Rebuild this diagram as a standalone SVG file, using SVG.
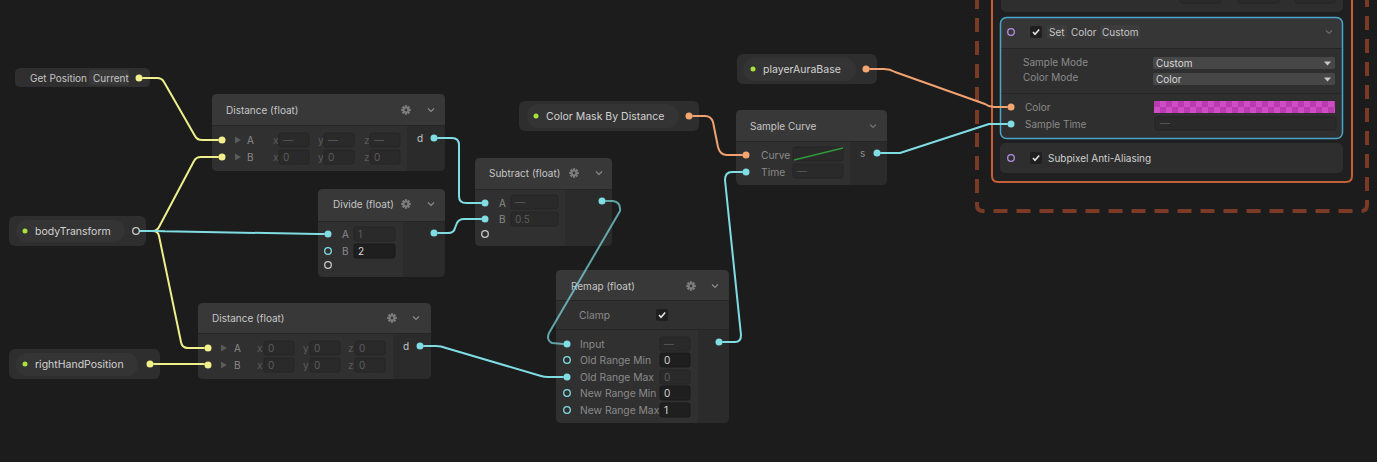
<svg xmlns="http://www.w3.org/2000/svg" width="1377" height="462" viewBox="0 0 1377 462">
<style>
text{font-family:"Inter","Liberation Sans",sans-serif;}
.hd{fill:#383838}
.bd{fill:#303030}
.oc{fill:#2b2b2b}
.sep{stroke:#262626;stroke-width:1}
.tt{fill:#c6c6c6;font-size:10px}
.lb{fill:#8a8a8a;font-size:10px}
.lb2{fill:#8a8a8a;font-size:10.3px}
.dm{fill:#5c5c5c;font-size:10px}
.vl{fill:#dadada;font-size:10px}
.fd{fill:#2a2a2a;stroke:#252525;stroke-width:1}
.fe{fill:#1f1f1f;stroke:#1a1a1a;stroke-width:1}
.py{fill:#f2f08c}
.pc{fill:#7fdde3}
.po{fill:#f3a572}
.hc{fill:none;stroke:#7fdde3;stroke-width:1.3}
.hw{fill:none;stroke:#c8c8c8;stroke-width:1.3}
.hp{fill:none;stroke:#b48ee0;stroke-width:1.3}
.gd{fill:#a9e23a}
.tri{fill:#5a5a5a}
.bbo{fill:#2e2e2e}
.bbi{fill:#343434}
.bn{fill:#d2d2d2;font-size:10.5px}
.e{fill:none;stroke-width:2;stroke-linecap:round;stroke-linejoin:round}
.ey{stroke:#eeee8a}
.ec{stroke:#7fdde3}
.eo{stroke:#f1a26f}
</style>
<defs>
<g id="gear">
<circle r="3.3" fill="#7c7c7c"/>
<g fill="#7c7c7c">
<rect x="-1.1" y="-4.8" width="2.2" height="9.6"/>
<rect x="-1.1" y="-4.8" width="2.2" height="9.6" transform="rotate(45)"/>
<rect x="-1.1" y="-4.8" width="2.2" height="9.6" transform="rotate(90)"/>
<rect x="-1.1" y="-4.8" width="2.2" height="9.6" transform="rotate(135)"/>
</g>
<circle r="1.4" fill="#383838"/>
</g>
<path id="chev" d="M-3,-1.5 L0,1.5 L3,-1.5" fill="none" stroke="#8a8a8a" stroke-width="1.2"/>
<g id="chk">
<rect x="-6" y="-6" width="12" height="12" rx="2" fill="#1f1f1f"/>
<path d="M-3,0 L-1,2.3 L3.2,-2.5" fill="none" stroke="#e6e6e6" stroke-width="1.5"/>
</g>
<path id="arr" d="M0,-3.5 L6,0 L0,3.5 Z" class="tri"/>
<pattern id="checker" width="12" height="12" patternUnits="userSpaceOnUse" x="1154" y="101">
<rect width="12" height="12" fill="#d04cc6"/>
<rect width="6" height="6" fill="#b83cae"/>
<rect x="6" y="6" width="6" height="6" fill="#b83cae"/>
</pattern>
</defs>
<rect width="1377" height="462" fill="#1c1c1c"/>

<!-- Context block (right) -->
<g id="context">
<path d="M977,-5 V205 Q977,211 983,211 H1361 Q1367,211 1367,205 V-5" fill="none" stroke="#7a3a25" stroke-width="4" stroke-dasharray="14 9"/>
<path d="M992,-5 V176 Q992,182 998,182 H1346 Q1352,182 1352,176 V-5" fill="#202020" stroke="#c45f38" stroke-width="2"/>
<g id="block-top">
<rect x="1001" y="-20" width="342" height="32" rx="5" fill="#2e2e2e"/>
<rect x="1180" y="-10" width="41" height="13" rx="2" class="fd"/>
<rect x="1238" y="-10" width="41" height="13" rx="2" class="fd"/>
<rect x="1295" y="-10" width="40" height="13" rx="2" class="fd"/>
</g>
<g id="block-setcolor">
<rect x="1000.5" y="17.5" width="342" height="121" rx="6" fill="#2f2f2f"/>
<path d="M1000.5,48 V23.5 Q1000.5,17.5 1006.5,17.5 H1336.5 Q1342.5,17.5 1342.5,23.5 V48 Z" fill="#363636"/>
<line x1="1001" y1="48.5" x2="1342" y2="48.5" class="sep"/>
<line x1="1001" y1="93.5" x2="1342" y2="93.5" class="sep"/>
<rect x="1000.5" y="17.5" width="342" height="121" rx="6" fill="none" stroke="#4aa6c9" stroke-width="1.5"/>
<circle cx="1011" cy="32" r="3.3" class="hp"/>
<use href="#chk" x="1036" y="32"/>
<rect x="1047" y="25" width="20" height="14" rx="2" fill="#3c3c3c"/>
<text x="1049" y="36" class="tt">Set</text>
<text x="1071" y="36" class="tt">Color</text>
<rect x="1100" y="25" width="40" height="14" rx="2" fill="#3c3c3c"/>
<text x="1102" y="36" class="tt">Custom</text>
<use href="#chev" x="1329" y="32" style="opacity:0.6"/>
<text x="1023" y="66" class="lb">Sample Mode</text>
<rect x="1153" y="57" width="182" height="12" rx="2" fill="#474747"/>
<text x="1156" y="66.5" class="vl">Custom</text>
<path d="M1324,61.5 L1331,61.5 L1327.5,65.5 Z" fill="#c8c8c8"/>
<text x="1023" y="81" class="lb">Color Mode</text>
<rect x="1153" y="73" width="182" height="12" rx="2" fill="#474747"/>
<text x="1156" y="82.5" class="vl">Color</text>
<path d="M1324,77.5 L1331,77.5 L1327.5,81.5 Z" fill="#c8c8c8"/>
<circle cx="1011" cy="107" r="3.5" class="po"/>
<text x="1025" y="111" class="lb">Color</text>
<rect x="1154" y="101" width="181" height="12" fill="url(#checker)"/>
<circle cx="1011" cy="124" r="3.5" class="pc"/>
<text x="1025" y="128" class="lb">Sample Time</text>
<rect x="1155" y="117" width="181" height="13" rx="2" class="fd"/>
<text x="1160" y="127" class="dm">—</text>
</g>
<g id="block-subpixel">
<rect x="1000" y="143" width="343" height="30" rx="5" fill="#2e2e2e"/>
<circle cx="1011" cy="158" r="3.3" class="hp"/>
<use href="#chk" x="1036" y="158"/>
<text x="1048" y="162" class="tt" style="fill:#d0d0d0">Subpixel Anti-Aliasing</text>
</g>
</g>

<!-- Get Position -->
<g id="node-getposition">
<rect x="15" y="68" width="135" height="19" rx="5" fill="#2f2f2f"/>
<text x="30" y="81.5" class="tt">Get Position</text>
<rect x="89" y="70" width="40" height="15" rx="2" fill="#393939"/>
<text x="93" y="81.5" class="tt">Current</text>
<circle cx="139" cy="78" r="3.5" class="py"/>
</g>

<!-- bodyTransform -->
<g id="node-bodytransform">
<rect x="9" y="216" width="137" height="30" rx="6" class="bbo"/>
<rect x="16" y="220" width="109" height="22" rx="11" class="bbi"/>
<circle cx="25" cy="231" r="2.5" class="gd"/>
<text x="35" y="235" class="bn">bodyTransform</text>
<circle cx="136" cy="231" r="3.3" class="hw"/>
</g>

<!-- rightHandPosition -->
<g id="node-righthand">
<rect x="9" y="349" width="151" height="30" rx="6" class="bbo"/>
<rect x="16" y="353" width="122" height="23" rx="11" class="bbi"/>
<circle cx="25" cy="364" r="2.5" class="gd"/>
<text x="35" y="368" class="bn">rightHandPosition</text>
<circle cx="150" cy="364" r="3.5" class="py"/>
</g>

<!-- Color Mask By Distance -->
<g id="node-colormask">
<rect x="519" y="101" width="180" height="30" rx="6" class="bbo"/>
<rect x="527" y="104" width="152" height="24" rx="12" class="bbi"/>
<circle cx="536" cy="116" r="2.5" class="gd"/>
<text x="546" y="120" class="bn">Color Mask By Distance</text>
<circle cx="689" cy="116" r="3.5" class="po"/>
</g>

<!-- playerAuraBase -->
<g id="node-playeraura">
<rect x="737" y="54" width="140" height="30" rx="6" class="bbo"/>
<rect x="743" y="58" width="113" height="23" rx="11" class="bbi"/>
<circle cx="753" cy="69" r="2.5" class="gd"/>
<text x="763" y="73" class="bn">playerAuraBase</text>
<circle cx="866" cy="69" r="3.5" class="po"/>
</g>

<!-- Distance (float) top -->
<g id="node-distance1">
<path d="M212,125 V99 Q212,94 217,94 H440 Q445,94 445,99 V125 Z" class="hd"/>
<path d="M212,125 H407 V171 H217 Q212,171 212,166 Z" class="bd"/>
<path d="M407,125 H445 V166 Q445,171 440,171 H407 Z" class="oc"/>
<line x1="212" y1="125.5" x2="445" y2="125.5" class="sep"/>
<text x="226" y="113.5" class="tt">Distance (float)</text>
<use href="#gear" x="406" y="110"/>
<use href="#chev" x="431" y="110"/>
<circle cx="222" cy="140" r="3.5" class="py"/>
<use href="#arr" x="235" y="140"/>
<text x="247" y="143.5" class="lb">A</text>
<text x="273" y="143.5" class="dm">x</text>
<rect x="279" y="133" width="30" height="14" rx="2" class="fd"/>
<text x="283" y="143.5" class="dm">—</text>
<text x="318" y="143.5" class="dm">y</text>
<rect x="324" y="133" width="30" height="14" rx="2" class="fd"/>
<text x="328" y="143.5" class="dm">—</text>
<text x="364" y="143.5" class="dm">z</text>
<rect x="370" y="133" width="30" height="14" rx="2" class="fd"/>
<text x="374" y="143.5" class="dm">—</text>
<circle cx="222" cy="157" r="3.5" class="py"/>
<use href="#arr" x="235" y="157"/>
<text x="247" y="160.5" class="lb">B</text>
<text x="273" y="160.5" class="dm">x</text>
<rect x="279" y="150" width="30" height="14" rx="2" class="fd"/>
<text x="283" y="160.5" class="dm">0</text>
<text x="318" y="160.5" class="dm">y</text>
<rect x="324" y="150" width="30" height="14" rx="2" class="fd"/>
<text x="328" y="160.5" class="dm">0</text>
<text x="364" y="160.5" class="dm">z</text>
<rect x="370" y="150" width="30" height="14" rx="2" class="fd"/>
<text x="374" y="160.5" class="dm">0</text>
<text x="417" y="141.5" class="tt">d</text>
<circle cx="434" cy="138" r="3.5" class="pc"/>
</g>

<!-- Divide (float) -->
<g id="node-divide">
<path d="M318,221 V194 Q318,189 323,189 H440 Q445,189 445,194 V221 Z" class="hd"/>
<path d="M318,221 H403 V277 H323 Q318,277 318,272 Z" class="bd"/>
<path d="M403,221 H445 V272 Q445,277 440,277 H403 Z" class="oc"/>
<line x1="318" y1="221.5" x2="445" y2="221.5" class="sep"/>
<text x="333" y="207.5" class="tt">Divide (float)</text>
<use href="#gear" x="406" y="204"/>
<use href="#chev" x="431" y="204"/>
<circle cx="328" cy="234" r="3.5" class="pc"/>
<text x="342" y="237.5" class="lb">A</text>
<rect x="354" y="227" width="41" height="14" rx="2" class="fd"/>
<text x="358" y="237.5" class="dm">1</text>
<circle cx="328" cy="251" r="3.3" class="hc"/>
<text x="342" y="254.5" class="lb">B</text>
<rect x="354" y="244" width="41" height="14" rx="2" class="fe"/>
<text x="358" y="254.5" class="vl">2</text>
<circle cx="328" cy="265" r="3.3" class="hw"/>
<circle cx="434" cy="233" r="3.5" class="pc"/>
</g>

<!-- Subtract (float) -->
<g id="node-subtract">
<path d="M475,189 V163 Q475,158 480,158 H607 Q612,158 612,163 V189 Z" class="hd"/>
<path d="M475,189 H565 V246 H480 Q475,246 475,241 Z" class="bd"/>
<path d="M565,189 H612 V241 Q612,246 607,246 H565 Z" class="oc"/>
<line x1="475" y1="189.5" x2="612" y2="189.5" class="sep"/>
<text x="489" y="176.5" class="tt">Subtract (float)</text>
<use href="#gear" x="574" y="173"/>
<use href="#chev" x="599" y="173"/>
<circle cx="485" cy="203" r="3.5" class="pc"/>
<text x="499" y="206.5" class="lb">A</text>
<rect x="511" y="195" width="47" height="14" rx="2" class="fd"/>
<text x="515" y="205.5" class="dm">—</text>
<circle cx="485" cy="219" r="3.5" class="pc"/>
<text x="499" y="222.5" class="lb">B</text>
<rect x="511" y="212" width="47" height="14" rx="2" class="fd"/>
<text x="515" y="222.5" class="dm">0.5</text>
<circle cx="485" cy="234" r="3.3" class="hw"/>
<circle cx="602" cy="201" r="3.5" class="pc"/>
</g>

<!-- Sample Curve -->
<g id="node-samplecurve">
<path d="M736,141 V115 Q736,110 741,110 H882 Q887,110 887,115 V141 Z" class="hd"/>
<path d="M736,141 H850 V185 H741 Q736,185 736,180 Z" class="bd"/>
<path d="M850,141 H887 V180 Q887,185 882,185 H850 Z" class="oc"/>
<line x1="736" y1="141.5" x2="887" y2="141.5" class="sep"/>
<text x="750" y="129.5" class="tt">Sample Curve</text>
<use href="#chev" x="873" y="126" style="opacity:0.7"/>
<circle cx="746" cy="155" r="3.5" class="po"/>
<text x="761" y="158.5" class="lb2">Curve</text>
<rect x="793" y="147" width="50" height="14" rx="2" class="fd"/>
<line x1="794" y1="160" x2="843" y2="148" stroke="#2f9a3a" stroke-width="1.3"/>
<circle cx="746" cy="172" r="3.5" class="pc"/>
<text x="761" y="175.5" class="lb2">Time</text>
<rect x="793" y="164" width="50" height="14" rx="2" class="fd"/>
<text x="797" y="174.5" class="dm">—</text>
<text x="860" y="157" class="lb">s</text>
<circle cx="877" cy="153" r="3.5" class="pc"/>
</g>

<!-- Remap (float) -->
<g id="node-remap">
<path d="M556,300 V275 Q556,270 561,270 H724 Q729,270 729,275 V300 Z" class="hd"/>
<rect x="556" y="300" width="173" height="29" class="bd"/>
<path d="M556,329 H698 V423 H561 Q556,423 556,418 Z" class="bd"/>
<path d="M698,329 H729 V418 Q729,423 724,423 H698 Z" class="oc"/>
<line x1="556" y1="300.5" x2="729" y2="300.5" class="sep"/>
<line x1="556" y1="329.5" x2="729" y2="329.5" class="sep"/>
<text x="571" y="289.5" class="tt">Remap (float)</text>
<use href="#gear" x="691" y="286"/>
<use href="#chev" x="715" y="286"/>
<text x="579" y="318.5" class="lb2">Clamp</text>
<use href="#chk" x="662" y="315"/>
<circle cx="567" cy="344" r="3.5" class="pc"/>
<text x="580" y="347.5" class="lb2">Input</text>
<rect x="660" y="337" width="30" height="14" rx="2" class="fd"/>
<text x="664" y="347.5" class="dm">—</text>
<circle cx="567" cy="360" r="3.3" class="hc"/>
<text x="580" y="363.5" class="lb2">Old Range Min</text>
<rect x="660" y="353" width="30" height="14" rx="2" class="fe"/>
<text x="664" y="363.5" class="vl">0</text>
<circle cx="567" cy="377" r="3.5" class="pc"/>
<text x="580" y="380.5" class="lb2">Old Range Max</text>
<rect x="660" y="370" width="30" height="14" rx="2" class="fd"/>
<text x="664" y="380.5" class="dm">0</text>
<circle cx="567" cy="393" r="3.3" class="hc"/>
<text x="580" y="396.5" class="lb2">New Range Min</text>
<rect x="660" y="386" width="30" height="14" rx="2" class="fe"/>
<text x="664" y="396.5" class="vl">0</text>
<circle cx="567" cy="410" r="3.3" class="hc"/>
<text x="580" y="413.5" class="lb2">New Range Max</text>
<rect x="660" y="403" width="30" height="14" rx="2" class="fe"/>
<text x="664" y="413.5" class="vl">1</text>
<circle cx="719" cy="342" r="3.5" class="pc"/>
</g>

<!-- Distance (float) bottom -->
<g id="node-distance2">
<path d="M198,333 V308 Q198,303 203,303 H426 Q431,303 431,308 V333 Z" class="hd"/>
<path d="M198,333 H393 V379 H203 Q198,379 198,374 Z" class="bd"/>
<path d="M393,333 H431 V374 Q431,379 426,379 H393 Z" class="oc"/>
<line x1="198" y1="333.5" x2="431" y2="333.5" class="sep"/>
<text x="212" y="321.5" class="tt">Distance (float)</text>
<use href="#gear" x="392" y="318"/>
<use href="#chev" x="416" y="318"/>
<circle cx="208" cy="348" r="3.5" class="py"/>
<use href="#arr" x="221" y="348"/>
<text x="234" y="351.5" class="lb">A</text>
<text x="257" y="351.5" class="dm">x</text>
<rect x="264" y="341" width="30" height="14" rx="2" class="fd"/>
<text x="268" y="351.5" class="dm">0</text>
<text x="303" y="351.5" class="dm">y</text>
<rect x="310" y="341" width="30" height="14" rx="2" class="fd"/>
<text x="314" y="351.5" class="dm">0</text>
<text x="348" y="351.5" class="dm">z</text>
<rect x="355" y="341" width="30" height="14" rx="2" class="fd"/>
<text x="359" y="351.5" class="dm">0</text>
<circle cx="208" cy="365" r="3.5" class="py"/>
<use href="#arr" x="221" y="365"/>
<text x="234" y="368.5" class="lb">B</text>
<text x="257" y="368.5" class="dm">x</text>
<rect x="264" y="358" width="30" height="14" rx="2" class="fd"/>
<text x="268" y="368.5" class="dm">0</text>
<text x="303" y="368.5" class="dm">y</text>
<rect x="310" y="358" width="30" height="14" rx="2" class="fd"/>
<text x="314" y="368.5" class="dm">0</text>
<text x="348" y="368.5" class="dm">z</text>
<rect x="355" y="358" width="30" height="14" rx="2" class="fd"/>
<text x="359" y="368.5" class="dm">0</text>
<text x="403" y="349.5" class="tt">d</text>
<circle cx="420" cy="346" r="3.5" class="pc"/>
</g>

<!-- Connectors -->
<g id="connectors">
<path class="e ey" d="M143,78 H157 Q162,78 164,82 L195,136 Q197,140 202,140 H218"/>
<path class="e ey" d="M140,231 H153 Q157,231 159,227 L194,161 Q196,157 201,157 H218"/>
<path class="e ey" d="M140,231 H153 Q158,231 159,236 L181,342 Q182,348 188,348 H204"/>
<path class="e ec" d="M140,231 H155 Q160,231 165,231.3 L318,234 H324"/>
<path class="e ey" d="M154,364 H204"/>
<path class="e ec" d="M438,138 H452 Q459,138 459,145 V196 Q459,203 466,203 H481"/>
<path class="e ec" d="M438,233 H448 Q454,233 455,228 L457,223 Q459,219 464,219 H481"/>
<path class="e ec" d="M606,201 H613 Q621,202 620,211 L549,333 Q546,340 552,343 L563,344" style="stroke-opacity:0.7"/>
<path class="e ec" d="M424,346 H436 Q441,346 446,348 L541,376 Q544,377 548,377 H563"/>
<path class="e ec" d="M723,342 H735 Q741,342 741,335 L725,180 Q725,172 732,172 H742"/>
<path class="e eo" d="M693,116 H705 Q711,116 713,122 L718,147 Q720,155 727,155 H742"/>
<path class="e eo" d="M870,69 H884 Q890,69 895,72 L985,104 Q989,107 994,107 H1007"/>
<path class="e ec" d="M881,153 H900 L989,124 H1007"/>
</g>
</svg>
